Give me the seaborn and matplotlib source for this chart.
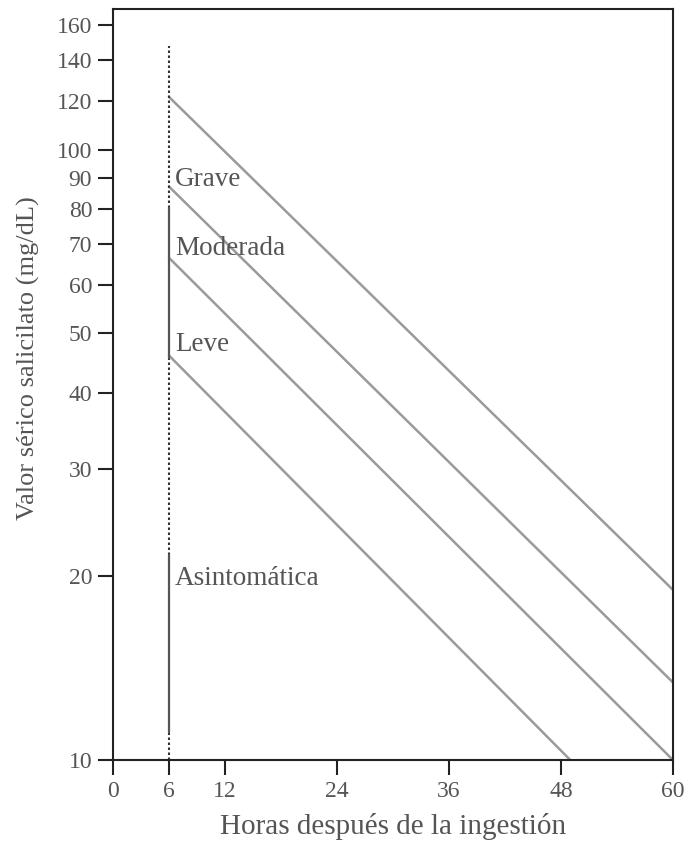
import numpy as np
import pandas as pd
import matplotlib
matplotlib.use("Agg")
import matplotlib.pyplot as plt
import seaborn as sns

# ---- data ----
line_names = ["Grave", "Moderada", "Leve", "Asintomática"]
line_start_hours = [6, 6, 6, 6]
line_start_values = [122, 87, 66.5, 46]
line_end_hours = [60, 60, 60, 49]
line_end_values = [19, 13.4, 10, 10]

label_texts = ["Grave", "Moderada", "Leve", "Asintomática"]
label_values = [89.5, 69, 48, 19.8]

x_ticks = [0, 6, 12, 24, 36, 48, 60]
y_ticks = [10, 20, 30, 40, 50, 60, 70, 80, 90, 100, 120, 140, 160]

vline_hour = 6
dotted_segments = [(80.3, 148), (21.7, 45.5), (10, 11.1)]
solid_segments = [(45.5, 80.3), (11.1, 21.7)]

rows = []
for name, h0, v0, h1, v1 in zip(line_names, line_start_hours, line_start_values,
                                line_end_hours, line_end_values):
    rows.append({"line": name, "hours": h0, "value": v0})
    rows.append({"line": name, "hours": h1, "value": v1})
df = pd.DataFrame(rows)

sns.set_theme(style="white")
plt.rcParams["font.family"] = ["Liberation Serif", "DejaVu Serif"]

fig = plt.figure(figsize=(6.92, 8.58), dpi=100)
ax = fig.add_axes([0.1633, 0.1142, 0.8092, 0.8753])

sns.lineplot(data=df, x="hours", y="value", units="line", estimator=None,
             color="#9a9a9a", linewidth=1.8, ax=ax, legend=False)

for lo, hi in dotted_segments:
    ax.plot([vline_hour, vline_hour], [lo, hi], color="#333333", lw=1.5,
            linestyle=(0, (1.2, 1.2)))
for lo, hi in solid_segments:
    ax.plot([vline_hour, vline_hour], [lo, hi], color="#555555", lw=1.6)

for txt, val in zip(label_texts, label_values):
    ax.text(vline_hour + 0.65, val, txt, fontsize=19.5, color="#555555",
            va="center", ha="left")

ax.set_yscale("log")
ax.set_xlim(0, 60)
ax.set_ylim(10, 170)
ax.set_xticks(x_ticks)
ax.set_xticklabels([str(t) for t in x_ticks])
ax.set_yticks(y_ticks)
ax.set_yticklabels([str(t) for t in y_ticks])
ax.yaxis.set_minor_locator(matplotlib.ticker.NullLocator())

ax.tick_params(axis="both", which="major", direction="out", length=11, width=1.5,
               color="#222222", labelsize=17, labelcolor="#555555", pad=4,
               left=True, bottom=True)
for s in ax.spines.values():
    s.set_color("#222222")
    s.set_linewidth(1.5)

ax.set_xlabel("Horas después de la ingestión", fontsize=21, color="#555555", labelpad=8)
ax.set_ylabel("Valor sérico salicilato (mg/dL)", fontsize=19, color="#555555")
ax.yaxis.set_label_coords(-0.131, 0.535)

fig.savefig("out.png", dpi=100)
